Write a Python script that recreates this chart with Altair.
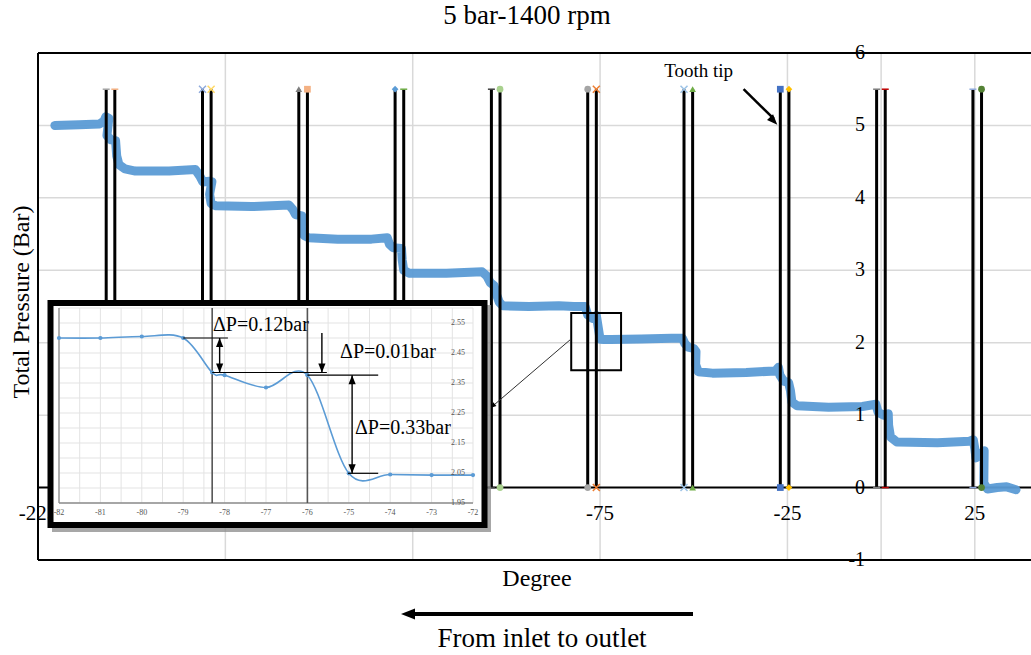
import altair as alt
import pandas as pd

SERIF = "Liberation Serif"
BLUE = "#5B9BD5"
GRID = "#d9d9d9"

# ---------------- main series: total pressure vs. degree ----------------
deg = [-220.5, -214.0, -208.6, -207.4, -206.9, -206.1, -206.6, -205.5, -204.3, -204.0,
       -203.4, -201.8, -199.0, -190.0, -183.0, -181.8, -181.0, -179.3, -178.6, -179.2,
       -178.8, -177.5, -168.0, -158.0, -157.0, -156.3, -154.6, -154.3, -154.0, -152.8,
       -145.0, -136.0, -131.8, -131.2, -130.2, -128.0, -127.8, -127.4, -126.0, -116.0,
       -106.5, -105.2, -104.3, -103.3, -102.6, -101.9, -101.0, -94.0, -86.0, -82.0,
       -79.0, -78.3, -78.0, -77.0, -76.0, -75.0, -74.0, -72.0, -64.0, -56.0,
       -53.0, -52.4, -51.5, -50.0, -49.4, -49.5, -48.8, -45.0, -36.0, -28.2,
       -27.4, -27.0, -26.0, -24.7, -24.2, -23.8, -22.4, -14.0, -5.0, -1.4,
       -0.8, 0.6, 1.9, 2.0, 2.5, 4.2, 15.0, 23.6, 24.6, 25.0,
       25.3, 26.4, 27.5, 27.4, 28.4, 31.0, 33.5, 36.0]
bar = [5.00, 5.01, 5.02, 5.06, 5.12, 5.10, 4.86, 4.80, 4.79, 4.58,
       4.46, 4.40, 4.37, 4.37, 4.39, 4.30, 4.22, 4.23, 4.22, 4.05,
       3.92, 3.89, 3.88, 3.90, 3.84, 3.77, 3.75, 3.60, 3.48, 3.45,
       3.43, 3.43, 3.45, 3.36, 3.31, 3.30, 3.14, 3.00, 2.96, 2.96,
       2.98, 2.92, 2.83, 2.79, 2.66, 2.56, 2.51, 2.50, 2.51, 2.50,
       2.50, 2.385, 2.376, 2.335, 2.376, 2.049, 2.045, 2.043, 2.05, 2.06,
       2.06, 1.99, 1.94, 1.92, 1.88, 1.70, 1.60, 1.58, 1.59, 1.61,
       1.66, 1.55, 1.47, 1.45, 1.34, 1.18, 1.13, 1.11, 1.12, 1.15,
       1.04, 1.00, 1.02, 0.86, 0.70, 0.63, 0.62, 0.64, 0.66, 0.54,
       0.41, 0.45, 0.51, 0.06, -0.02, 0.00, 0.01, -0.03]

# tooth tip edges (two per tooth) and their marker styles
tooth_edges = [-206.8, -204.5, -181.1, -178.8, -155.4, -153.1, -129.7, -127.4, -104.0, -101.7,
               -78.3, -76.0, -52.6, -50.3, -26.9, -24.6, -1.2, 1.1, 24.5, 26.8]
tooth_top = 5.5
edge_shapes = ["stroke", "stroke", "x", "x", "triangle-up", "square", "diamond", "stroke", "stroke", "circle",
               "circle", "x", "x", "triangle-up", "square", "diamond", "stroke", "stroke", "stroke", "circle"]
edge_colors = ["#A5A5A5", "#F4B183", "#8FAADC", "#FFD966", "#7F7F7F", "#F4B183", "#5B9BD5", "#70AD47", "#404040", "#A9D18E",
               "#A5A5A5", "#ED7D31", "#9DC3E6", "#70AD47", "#4472C4", "#FFC000", "#7F7F7F", "#C00000", "#8FAADC", "#548235"]

# tick labels that stay visible (the others sit under the detail view)
x_ticks = [-225, -75, -25, 25]
x_tick_text = ["-225", "-75", "-25", "25"]
x_grid = [-175, -125, -75, -25, 0, 25]
y_ticks = [-1, 0, 1, 2, 3, 4, 5, 6]
y_tick_text = ["-1", "0", "1", "2", "3", "4", "5", "6"]
y_grid = [1, 2, 3, 4, 5]
X_DOMAIN = [-225, 40]
Y_DOMAIN = [-1, 6]

# ---------------- detail view around the -78 / -76 tooth ----------------
inset_deg = [-82, -81, -80, -79, -78.3, -78, -77, -76, -75, -74, -73, -72]
inset_bar = [2.50, 2.50, 2.505, 2.50, 2.385, 2.376, 2.335, 2.376, 2.049, 2.045, 2.043, 2.043]
inset_edges = [-78.3, -76.0]
inset_x_ticks = [-82, -81, -80, -79, -78, -77, -76, -75, -74, -73, -72]
inset_x_text = ["-82", "-81", "-80", "-79", "-78", "-77", "-76", "-75", "-74", "-73", "-72"]
inset_y_ticks = [1.95, 2.05, 2.15, 2.25, 2.35, 2.45, 2.55]
inset_y_text = ["1.95", "2.05", "2.15", "2.25", "2.35", "2.45", "2.55"]
inset_x_grid = [-82, -81.5, -81, -80.5, -80, -79.5, -79, -78.5, -78, -77.5, -77,
                -76.5, -76, -75.5, -75, -74.5, -74, -73.5, -73, -72.5, -72]
inset_y_grid = [1.95, 2.0, 2.05, 2.1, 2.15, 2.2, 2.25, 2.3, 2.35, 2.4, 2.45, 2.5, 2.55, 2.6]
INSET_X = [-82, -72]
INSET_Y = [1.95, 2.60]

dp_labels = ["ΔP=0.12bar", "ΔP=0.01bar", "ΔP=0.33bar"]
dp_label_x = [-78.28, -75.21, -74.85]
dp_label_y = [2.543, 2.453, 2.20]
guide_x0 = [-79.0, -78.3, -76.0, -75.02]
guide_x1 = [-77.92, -75.53, -74.29, -74.29]
guide_y = [2.50, 2.385, 2.376, 2.049]
shaft_x = [-78.12, -75.65, -74.92]
shaft_y0 = [2.50, 2.517, 2.376]
shaft_y1 = [2.385, 2.385, 2.049]
head_x = [-78.12, -78.12, -75.65, -74.92, -74.92]
head_y = [2.50, 2.385, 2.385, 2.376, 2.049]
head_angle = [0, 180, 180, 0, 180]

# arrowhead symbol: tip at the origin, pointing up
ARROW = "M0,0L-0.8,2L0.8,2Z"
XMARK = "M-1,-1L1,1M-1,1L1,-1"

# ---------------- encodings ----------------
mx_scale = alt.Scale(domain=X_DOMAIN, nice=False, zero=False)
my_scale = alt.Scale(domain=Y_DOMAIN, nice=False, zero=False)
ix_scale = alt.Scale(domain=INSET_X, range=[21, 435], nice=False, zero=False)
iy_scale = alt.Scale(domain=INSET_Y, range=[450, 255], nice=False, zero=False)


def MX(f):
    return alt.X(f, type="quantitative", scale=mx_scale, axis=None)


def MY(f):
    return alt.Y(f, type="quantitative", scale=my_scale, axis=None)


def IX(f):
    return alt.X(f, type="quantitative", scale=ix_scale, axis=None)


def IY(f):
    return alt.Y(f, type="quantitative", scale=iy_scale, axis=None)


one = pd.DataFrame({"k": [0]})

# ---------------- main layers ----------------
grid_v = alt.Chart(pd.DataFrame({"x": x_grid})).mark_rule(color=GRID, strokeWidth=1.5).encode(x=MX("x"))
grid_h = alt.Chart(pd.DataFrame({"y": y_grid})).mark_rule(color=GRID, strokeWidth=1.5).encode(y=MY("y"))
frame_h = alt.Chart(pd.DataFrame({"y": [Y_DOMAIN[0], 0, Y_DOMAIN[1]]})).mark_rule(
    color="black", strokeWidth=2).encode(y=MY("y"))
frame_v = alt.Chart(pd.DataFrame({"x": [X_DOMAIN[0]]})).mark_rule(
    color="black", strokeWidth=2).encode(x=MX("x"))

series = pd.DataFrame({"deg": deg, "bar": bar, "i": list(range(len(deg)))})
pressure = alt.Chart(series).mark_line(
    color=BLUE, strokeWidth=9, strokeCap="round", strokeJoin="round", opacity=0.95
).encode(x=MX("deg"), y=MY("bar"), order=alt.Order("i:Q"))

teeth_df = pd.DataFrame({"x": tooth_edges, "y0": [0] * len(tooth_edges), "y1": [tooth_top] * len(tooth_edges)})
teeth = alt.Chart(teeth_df).mark_rule(color="black", strokeWidth=3).encode(
    x=MX("x"), y=MY("y0"), y2=alt.Y2("y1"))

mk_rows = []
for x, s, c in zip(tooth_edges, edge_shapes, edge_colors):
    for y in (0, tooth_top):
        mk_rows.append({"x": x, "y": y, "shape": XMARK if s == "x" else s, "color": c, "kind": s})
mk = pd.DataFrame(mk_rows)
filled_kinds = ["circle", "square", "diamond", "triangle-up"]
markers_filled = alt.Chart(mk[mk["kind"].isin(filled_kinds)]).mark_point(filled=True, size=45, opacity=1).encode(
    x=MX("x"), y=MY("y"), shape=alt.Shape("shape:N", scale=None), color=alt.Color("color:N", scale=None))
markers_line = alt.Chart(mk[~mk["kind"].isin(filled_kinds)]).mark_point(
    filled=False, size=49, strokeWidth=1.5, opacity=1).encode(
    x=MX("x"), y=MY("y"), shape=alt.Shape("shape:N", scale=None), color=alt.Color("color:N", scale=None))

ylab = alt.Chart(pd.DataFrame({"x": [0] * len(y_ticks), "y": y_ticks, "t": y_tick_text})).mark_text(
    font=SERIF, fontSize=20, align="right", baseline="middle", dx=-16, color="black").encode(
    x=MX("x"), y=MY("y"), text="t:N")
xlab = alt.Chart(pd.DataFrame({"x": x_ticks, "y": [0] * len(x_ticks), "t": x_tick_text})).mark_text(
    font=SERIF, fontSize=21, align="center", baseline="middle", dy=26, color="black").encode(
    x=MX("x"), y=MY("y"), text="t:N")

# zoom window and its leader line
zoom_box = alt.Chart(pd.DataFrame({"x0": [-82.7], "x1": [-69.4], "y0": [1.62], "y1": [2.41]})).mark_rect(
    fill=None, stroke="black", strokeWidth=2).encode(
    x=MX("x0"), x2=alt.X2("x1"), y=MY("y0"), y2=alt.Y2("y1"))
leader = alt.Chart(pd.DataFrame({"x0": [-83.0], "x1": [-104.0], "y0": [2.04], "y1": [1.11]})).mark_rule(
    color="#303030", strokeWidth=1).encode(x=MX("x0"), x2=alt.X2("x1"), y=MY("y0"), y2=alt.Y2("y1"))
leader_head = alt.Chart(pd.DataFrame({"x": [-104.3], "y": [1.10]})).mark_point(
    shape=ARROW, filled=True, size=36, color="black", angle=230, opacity=1).encode(x=MX("x"), y=MY("y"))

# "Tooth tip" callout
tip_text = alt.Chart(pd.DataFrame({"x": [-48.7], "y": [5.75], "t": ["Tooth tip"]})).mark_text(
    font=SERIF, fontSize=19, baseline="middle", align="center", color="black").encode(
    x=MX("x"), y=MY("y"), text="t:N")
tip_line = alt.Chart(pd.DataFrame({"x0": [-36.7], "x1": [-28.6], "y0": [5.50], "y1": [5.09]})).mark_rule(
    color="black", strokeWidth=2.5).encode(x=MX("x0"), x2=alt.X2("x1"), y=MY("y0"), y2=alt.Y2("y1"))
tip_head = alt.Chart(pd.DataFrame({"x": [-27.7], "y": [5.01]})).mark_point(
    shape=ARROW, filled=True, size=110, color="black", angle=136, opacity=1).encode(x=MX("x"), y=MY("y"))

# titles and flow direction arrow
title = alt.Chart(one).mark_text(text="5 bar-1400 rpm", font=SERIF, fontSize=27, baseline="middle",
                                 color="black").encode(x=alt.value(489), y=alt.value(-37))
x_title = alt.Chart(one).mark_text(text="Degree", font=SERIF, fontSize=24, baseline="middle",
                                   color="black").encode(x=alt.value(499), y=alt.value(526))
y_title = alt.Chart(one).mark_text(text="Total Pressure (Bar)", font=SERIF, fontSize=24, baseline="middle",
                                   angle=270, color="black").encode(x=alt.value(-16), y=alt.value(249))
flow_text = alt.Chart(one).mark_text(text="From inlet to outlet", font=SERIF, fontSize=27, baseline="middle",
                                     color="black").encode(x=alt.value(504), y=alt.value(586))
flow_line = alt.Chart(one).mark_rule(color="black", strokeWidth=4).encode(
    x=alt.value(372), x2=alt.value(655), y=alt.value(561))
flow_head = alt.Chart(one).mark_point(shape=ARROW, filled=True, size=196, color="black", angle=270,
                                      opacity=1).encode(x=alt.value(363), y=alt.value(561))

main = alt.layer(grid_v, grid_h, frame_v, frame_h, pressure, teeth, markers_filled, markers_line,
                 ylab, xlab, zoom_box, leader, leader_head, tip_text, tip_line, tip_head,
                 title, x_title, y_title, flow_text, flow_line, flow_head)

# ---------------- detail view layers ----------------
shadow = alt.Chart(one).mark_rect(fill="#8a8a8a", opacity=0.75).encode(
    x=alt.value(14), x2=alt.value(453), y=alt.value(252), y2=alt.value(479))
box = alt.Chart(one).mark_rect(fill="white", stroke="black", strokeWidth=6).encode(
    x=alt.value(12.5), x2=alt.value(446.5), y=alt.value(250), y2=alt.value(472))

ig_v = alt.Chart(pd.DataFrame({"x": inset_x_grid, "y0": INSET_Y[0], "y1": INSET_Y[1]})).mark_rule(
    color="#e3e3e3", strokeWidth=1).encode(x=IX("x"), y=IY("y0"), y2=alt.Y2("y1"))
ig_h = alt.Chart(pd.DataFrame({"y": inset_y_grid, "x0": INSET_X[0], "x1": INSET_X[1]})).mark_rule(
    color="#e3e3e3", strokeWidth=1).encode(y=IY("y"), x=IX("x0"), x2=alt.X2("x1"))
i_axes = alt.Chart(pd.DataFrame({"x0": [INSET_X[0], INSET_X[0]], "x1": [INSET_X[0], INSET_X[1]],
                                 "y0": [INSET_Y[0], INSET_Y[0]], "y1": [INSET_Y[1], INSET_Y[0]]})).mark_rule(
    color="#8c8c8c", strokeWidth=1.3).encode(x=IX("x0"), x2=alt.X2("x1"), y=IY("y0"), y2=alt.Y2("y1"))
i_edges = alt.Chart(pd.DataFrame({"x": inset_edges, "y0": INSET_Y[0], "y1": INSET_Y[1]})).mark_rule(
    color="#555555", strokeWidth=1.6).encode(x=IX("x"), y=IY("y0"), y2=alt.Y2("y1"))

idf = pd.DataFrame({"deg": inset_deg, "bar": inset_bar})
i_curve = alt.Chart(idf).mark_line(color=BLUE, strokeWidth=1.6, interpolate="cardinal").encode(
    x=IX("deg"), y=IY("bar"))
i_pts = alt.Chart(idf).mark_circle(color=BLUE, size=18, opacity=1).encode(x=IX("deg"), y=IY("bar"))

i_xlab = alt.Chart(pd.DataFrame({"x": inset_x_ticks, "y": INSET_Y[0], "t": inset_x_text})).mark_text(
    font=SERIF, fontSize=8, color="#555555", baseline="middle", dy=10).encode(
    x=IX("x"), y=IY("y"), text="t:N")
i_ylab = alt.Chart(pd.DataFrame({"y": inset_y_ticks, "x": INSET_X[1], "t": inset_y_text})).mark_text(
    font=SERIF, fontSize=8, color="#555555", baseline="middle", align="right", dx=-8).encode(
    x=IX("x"), y=IY("y"), text="t:N")

i_guides = alt.Chart(pd.DataFrame({"x0": guide_x0, "x1": guide_x1, "y": guide_y})).mark_rule(
    color="black", strokeWidth=1.2).encode(x=IX("x0"), x2=alt.X2("x1"), y=IY("y"))
i_shafts = alt.Chart(pd.DataFrame({"x": shaft_x, "y0": shaft_y0, "y1": shaft_y1})).mark_rule(
    color="black", strokeWidth=1.4).encode(x=IX("x"), y=IY("y0"), y2=alt.Y2("y1"))
i_heads = alt.Chart(pd.DataFrame({"x": head_x, "y": head_y, "a": head_angle})).mark_point(
    shape=ARROW, filled=True, size=81, color="black", opacity=1).encode(
    x=IX("x"), y=IY("y"), angle=alt.Angle("a:Q", scale=None))
i_text = alt.Chart(pd.DataFrame({"x": dp_label_x, "y": dp_label_y, "t": dp_labels})).mark_text(
    font=SERIF, fontSize=20, align="left", baseline="middle", color="black").encode(
    x=IX("x"), y=IY("y"), text="t:N")

inset = alt.layer(shadow, box, ig_v, ig_h, i_axes, i_edges, i_curve, i_pts, i_xlab, i_ylab,
                  i_guides, i_shafts, i_heads, i_text)

chart = alt.layer(main, inset).resolve_scale(x="independent", y="independent").properties(
    width=993, height=507,
    autosize=alt.AutoSizeParams(type="none"),
    padding={"left": 38, "top": 53, "right": 0, "bottom": 95},
    background="white",
).configure_view(stroke=None)

chart.save("out.html", embed_options={"renderer": "svg", "actions": False})
